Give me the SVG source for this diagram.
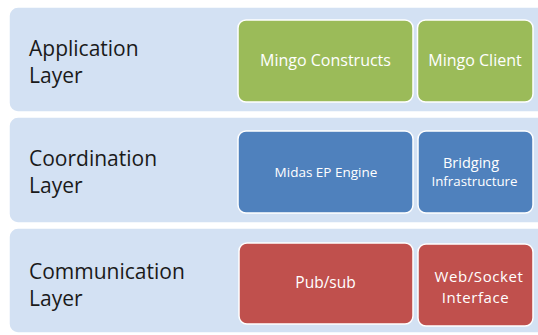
<svg xmlns="http://www.w3.org/2000/svg" width="538" height="335" viewBox="0 0 538 335">
<style>
.band{fill:#D3E1F3;stroke:#FFFFFF;stroke-width:1.5}
.lbl{font-family:"Open Sans","Liberation Sans",sans-serif;font-size:21px;fill:#1A1A1A}
.box{stroke:#FFFFFF;stroke-width:1.5}
.g{fill:#9BBB59}.b{fill:#4F81BD}.r{fill:#C0504D}
.t{font-family:"Open Sans","Liberation Sans",sans-serif;fill:#FFFFFF;text-anchor:middle}
</style>
<rect x="0" y="0" width="538" height="335" fill="#FFFFFF"/>
<g id="application-layer">
<rect class="band" x="9" y="7" width="540" height="105" rx="9"/>
<text class="lbl" x="29" y="56">Application</text>
<text class="lbl" x="29" y="83">Layer</text>
</g>
<g id="coordination-layer">
<rect class="band" x="9" y="117" width="540" height="106" rx="9"/>
<text class="lbl" x="29" y="166">Coordination</text>
<text class="lbl" x="29" y="193">Layer</text>
</g>
<g id="communication-layer">
<rect class="band" x="9" y="228" width="540" height="105" rx="9"/>
<text class="lbl" x="29" y="279">Communication</text>
<text class="lbl" x="29" y="306">Layer</text>
</g>
<g id="mingo-constructs">
<rect class="box g" x="238" y="20" width="175" height="82" rx="8"/>
<text class="t" x="325.5" y="66" font-size="16">Mingo Constructs</text>
</g>
<g id="mingo-client">
<rect class="box g" x="417.5" y="20" width="115.5" height="82" rx="8"/>
<text class="t" x="475" y="66" font-size="16">Mingo Client</text>
</g>
<g id="midas-ep-engine">
<rect class="box b" x="238" y="131" width="175" height="82" rx="8"/>
<text class="t" x="326" y="177" font-size="13.5">Midas EP Engine</text>
</g>
<g id="bridging-infrastructure">
<rect class="box b" x="418" y="131" width="115" height="82" rx="8"/>
<text class="t" x="471" y="168" font-size="14.5">Bridging</text>
<text class="t" x="474.5" y="186" font-size="13.3">Infrastructure</text>
</g>
<g id="pub-sub">
<rect class="box r" x="239" y="243" width="174" height="81" rx="8"/>
<text class="t" x="325.5" y="288" font-size="15.5">Pub/sub</text>
</g>
<g id="websocket-interface">
<rect class="box r" x="418" y="244" width="115" height="82" rx="8"/>
<text class="t" x="479" y="282" font-size="15" letter-spacing="0.6">Web/Socket</text>
<text class="t" x="475.5" y="303" font-size="15" letter-spacing="0.6">Interface</text>
</g>
<g id="connectors"></g>
</svg>
